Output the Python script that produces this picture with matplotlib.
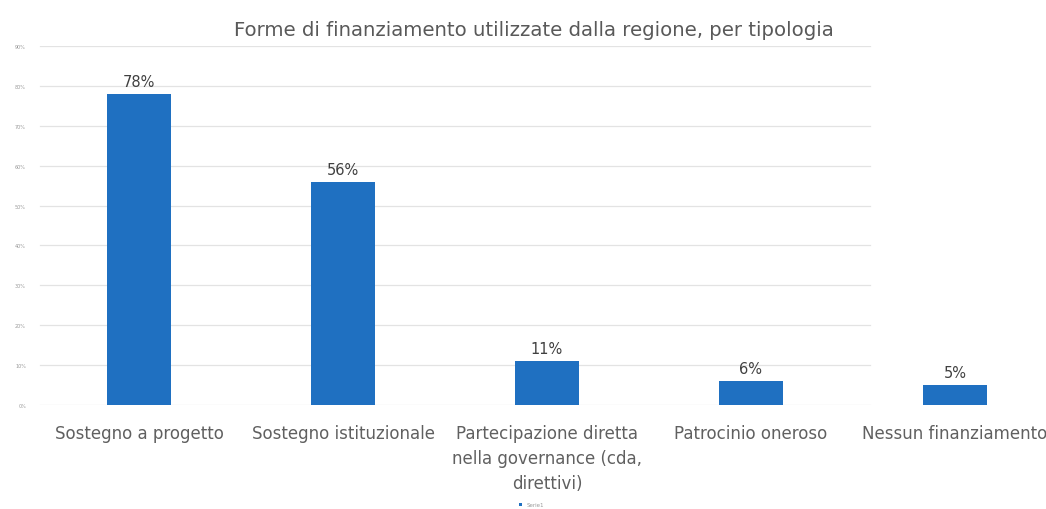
import matplotlib
matplotlib.use("Agg")
import matplotlib.pyplot as plt
from matplotlib.ticker import FuncFormatter
import numpy as np

categories = ["Sostegno a progetto", "Sostegno istituzionale",
              "Partecipazione diretta\nnella governance (cda,\ndirettivi)",
              "Patrocinio oneroso", "Nessun finanziamento"]
values = [0.78, 0.56, 0.11, 0.06, 0.05]
value_labels = ["78%", "56%", "11%", "6%", "5%"]
yticks = [0.0, 0.1, 0.2, 0.3, 0.4, 0.5, 0.6, 0.7, 0.8, 0.9]
series_name = "Serie1"
title = "Forme di finanziamento utilizzate dalla regione, per tipologia"

fig = plt.figure(figsize=(10.46, 5.10), dpi=100)
ax = fig.add_axes([37/1046, 104/510, 1020/1046, 359/510])

x = np.arange(len(categories))
bars = ax.bar(x, values, width=0.31, color="#1F70C1", label=series_name, zorder=3)
for xi, v, lab in zip(x, values, value_labels):
    ax.text(xi, v + 0.012, lab, ha="center", va="bottom", fontsize=10.5, color="#404040")

ax.set_xlim(-0.5, len(categories) - 0.5)
ax.set_ylim(0, 0.9)
ax.set_yticks(yticks)
ax.yaxis.set_major_formatter(FuncFormatter(lambda v, p: f"{v*100:.0f}%"))
ax.tick_params(axis="y", labelsize=3.5, labelcolor="#9a9a9a", length=0, pad=8)
ax.set_xticks(x)
ax.set_xticklabels(categories, fontsize=12, color="#606060", linespacing=1.5)
ax.tick_params(axis="x", length=0, pad=14)
for lbl in ax.get_xticklabels()[-1:]:
    lbl.set_x(lbl.get_position()[0])
for t in yticks:
    ax.axhline(t, xmin=0.003, xmax=0.817, color="#e3e3e3", linewidth=0.9, zorder=0)
for s in ax.spines.values():
    s.set_visible(False)

fig.text(0.51, 0.94, title, ha="center", va="center", fontsize=14.2, color="#595959")
leg = fig.legend(handles=[bars], labels=[series_name], loc="center", bbox_to_anchor=(0.508, 0.008),
                 frameon=False, fontsize=4, handlelength=0.6, handleheight=0.6, labelcolor="#9a9a9a")

fig.savefig("out.png", dpi=100, facecolor="white")
